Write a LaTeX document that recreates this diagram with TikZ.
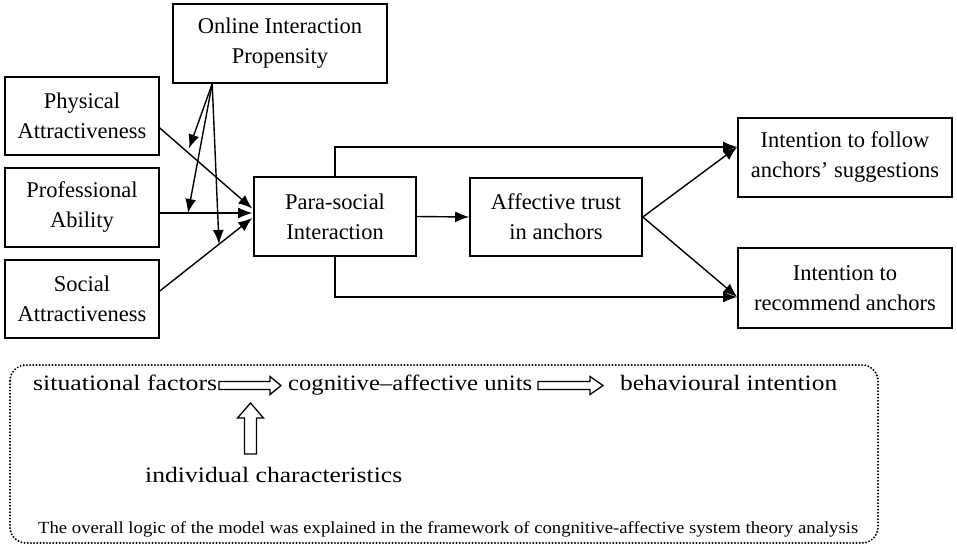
\documentclass[tikz,border=0pt]{standalone}
\usepackage{fontspec}
\setmainfont{Liberation Serif}
\usetikzlibrary{arrows.meta,calc}
\begin{document}
\begin{tikzpicture}[x=1pt,y=-1pt,
  box/.style={draw, line width=1.6pt, inner sep=0pt, align=center, font=\fontsize{22.5}{30}\selectfont},
  arr/.style={line width=1.4pt, -{Latex[length=14pt,width=11pt]}},
  hollow/.style={draw, line width=1.3pt, fill=white, line join=miter},
  lbl/.style={inner sep=0pt, anchor=base west},
  dotbox/.style={line width=2.2pt, dash pattern=on 0pt off 3.2pt, line cap=round, rounded corners=16pt}]
\useasboundingbox (0,0) rectangle (957,552);
% boxes
\node[box, minimum width=214pt, minimum height=79pt] (oip) at (280,43.5) {Online Interaction\\Propensity};
\node[box, minimum width=154pt, minimum height=78pt] (phy) at (82,116) {Physical\\Attractiveness};
\node[box, minimum width=154pt, minimum height=79pt] (pro) at (82,207.5) {Professional\\Ability};
\node[box, minimum width=154pt, minimum height=78pt] (soc) at (82,299) {Social\\Attractiveness};
\node[box, minimum width=162pt, minimum height=79pt] (psi) at (335,216.5) {Para-social\\Interaction};
\node[box, minimum width=172pt, minimum height=78pt] (aff) at (556,217) {Affective trust\\in anchors};
\node[box, minimum width=214pt, minimum height=79pt] (fol) at (845,157.5) {Intention to follow\\anchors’ suggestions};
\node[box, minimum width=214pt, minimum height=80pt] (rec) at (845,288) {Intention to\\recommend anchors};
% helper coordinates
\coordinate (phyS) at ($(phy.east)+(0,12)$);
\coordinate (proS) at ($(pro.east)+(0,5.5)$);
\coordinate (socS) at ($(soc.east)+(0,-8)$);
\coordinate (m1) at ($(psi.west)+(-1,-8)$);
\coordinate (m2) at ($(psi.west)+(-1,-3.5)$);
\coordinate (m3) at ($(psi.west)+(-1,1.5)$);
\coordinate (o) at ($(oip.south west)+(40,0)$);
\coordinate (t1) at (189,148.5);
\coordinate (t2) at (188,213);
\coordinate (t3) at (219,244);
\coordinate (ft) at ($(fol.west)+(0,-10.5)$);
\coordinate (rt) at ($(rec.west)+(0,9)$);
% connectors
\draw[arr] (phyS) -- (m1);
\draw[arr] (proS) -- (m2);
\draw[arr] (socS) -- (m3);
\draw[arr] (o) -- (t1);
\draw[arr] (o) -- (t2);
\draw[arr] (o) -- (t3);
\draw[arr] (psi.east) -- (aff.west);
\draw[arr] (psi.north) |- (ft);
\draw[arr] (psi.south) |- (rt);
\draw[arr] (aff.east) -- (ft);
\draw[arr] (aff.east) -- (rt);
% framework box
\draw[dotbox] (10,365) rectangle (878,543);
\node[lbl, font=\fontsize{22}{24}\selectfont] (sit) at (33,390) {\resizebox{184pt}{\height}{situational factors}};
\node[lbl, font=\fontsize{22}{24}\selectfont] (cog) at (288,390) {\resizebox{244pt}{\height}{cognitive–affective units}};
\node[lbl, font=\fontsize{22}{24}\selectfont] (beh) at (620,390) {\resizebox{217pt}{\height}{behavioural intention}};
\node[lbl, font=\fontsize{22}{24}\selectfont] (ind) at (145,482) {\resizebox{257pt}{\height}{individual characteristics}};
\node[lbl, font=\fontsize{17}{19}\selectfont] (logic) at (38,533) {\resizebox{820pt}{\height}{The overall logic of the model was explained in the framework of congnitive-affective system theory analysis}};
% hollow arrows
\draw[hollow] (219,381.5) -- (270,381.5) -- (270,376.5) -- (281,385.5) -- (270,394.5) -- (270,389.5) -- (219,389.5) -- cycle;
\draw[hollow] (538,381.5) -- (590,381.5) -- (590,376.5) -- (603,385.5) -- (590,394.5) -- (590,389.5) -- (538,389.5) -- cycle;
\draw[hollow] (244.5,454) -- (244.5,418) -- (237.5,418) -- (250.5,403) -- (263.5,418) -- (256.5,418) -- (256.5,454) -- cycle;
\end{tikzpicture}
\end{document}
